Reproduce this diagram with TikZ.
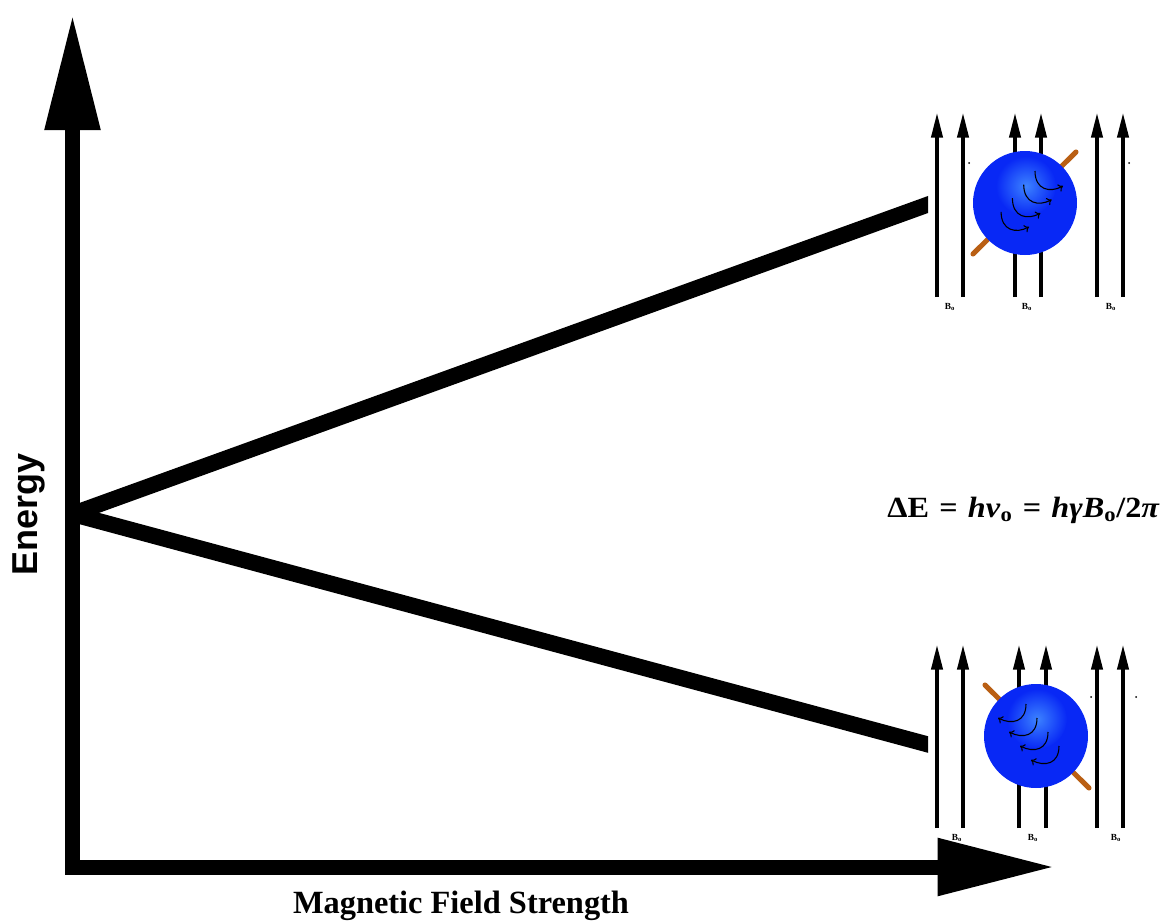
\documentclass[tikz,border=0pt]{standalone}
\usepackage{fontspec}
\setmainfont{Liberation Serif}
\newfontfamily\labelsans{Liberation Sans}
\usetikzlibrary{arrows.meta}

\definecolor{sphereblue}{RGB}{8,40,245}
\definecolor{spherelight}{RGB}{60,130,255}
\definecolor{rodbrown}{RGB}{185,95,20}

\newcommand{\eqsp}{\hspace{7pt}=\hspace{7pt}}
\newcommand{\gapformula}{\bfseries ΔE\eqsp\textit{hv}\textsubscript{o}\eqsp\textit{hγB}\textsubscript{o}/2\textit{π}}
\newcommand{\fieldsub}{B\textsubscript{o}}

\tikzset{
  axisline/.style={line width=11.25pt, line join=miter,
    {Triangle[length=87pt,width=39pt]}-{Triangle[length=88pt,width=40.5pt]}},
  level/.style={line width=12pt, shorten >=-12pt},
  fieldline/.style={line width=2.3pt, -{Triangle[length=18.5pt,width=8.5pt]}},
  rod/.style={line width=3.8pt, rodbrown, line cap=round},
  spin/.style={line width=0.8pt, -{To[length=3.5pt,width=6pt]}},
  blabel/.style={font=\bfseries\fontsize{7}{7}\selectfont, inner sep=0pt},
  gaptext/.style={font=\fontsize{22}{25}\selectfont, anchor=base west, inner sep=0pt, xscale=1.1},
  speck/.style={fill=black},
}

\begin{document}
\begin{tikzpicture}[x=0.75pt,y=-0.75pt]
\useasboundingbox (0,0) rectangle (1165,921);

% axes
\coordinate (ytip) at (72.5,14);
\coordinate (origin) at (72.5,867);
\coordinate (xtip) at (1055,867);
\draw[axisline] (ytip) -- (origin) -- (xtip);

% energy levels splitting with field strength
\coordinate (split) at (72.5,514);
\coordinate (upper) at (928,204.5);
\coordinate (lower) at (928,744.5);
\begin{scope}
  \clip (0,0) rectangle (928,921);
  \draw[level] (split) -- (upper);
  \draw[level] (split) -- (lower);
\end{scope}

% axis labels
\node[font=\labelsans\bfseries\fontsize{27}{30}\selectfont, rotate=90, anchor=base, inner sep=0pt]
  (energy) at (37,514.5) {Energy};
\node[font=\bfseries\fontsize{24.3}{28}\selectfont, anchor=base, inner sep=0pt]
  (fieldlabel) at (461,913) {Magnetic Field Strength};

% energy gap
\node[gaptext] (deltaE) at (887,517) {\gapformula};

% ---- upper state: spin against the field ----
\foreach \x in {937,963,1015,1041,1097,1123}
  \draw[fieldline] (\x,297) -- (\x,113);
\draw[rod] (973,254) -- (1076,152);
\fill[sphereblue] (1025,203) circle[radius=52];
\begin{scope}
  \clip (1025,203) circle[radius=52];
  \shade[inner color=spherelight, outer color=sphereblue] (1026,186) circle[radius=30];
\end{scope}
\foreach \i in {0,1,2,3}
  \draw[spin, shift={(-11.3*\i,13.6*\i)}] (1035,171) .. controls (1035,190) and (1050,193) .. (1063,186);
\foreach \x in {950,1027,1111}
  \node[blabel] at (\x,307) {\fieldsub};
\fill[speck] (969,163) circle[radius=1];
\fill[speck] (1129,163) circle[radius=1];

% ---- lower state: spin with the field ----
\foreach \x in {937,963,1019,1046,1097,1123}
  \draw[fieldline] (\x,828) -- (\x,645);
\draw[rod] (985,685) -- (1089,788);
\fill[sphereblue] (1036,736) circle[radius=52];
\begin{scope}
  \clip (1036,736) circle[radius=52];
  \shade[inner color=spherelight, outer color=sphereblue] (1037,719) circle[radius=30];
\end{scope}
\foreach \i in {0,1,2,3}
  \draw[spin, shift={(11*\i,14*\i)}] (1026,704) .. controls (1026,722) and (1012,725) .. (998,718);
\foreach \x in {957,1033,1116}
  \node[blabel] at (\x,838) {\fieldsub};
\fill[speck] (1091,697) circle[radius=1];
\fill[speck] (1136,697) circle[radius=1];
\end{tikzpicture}
\end{document}
